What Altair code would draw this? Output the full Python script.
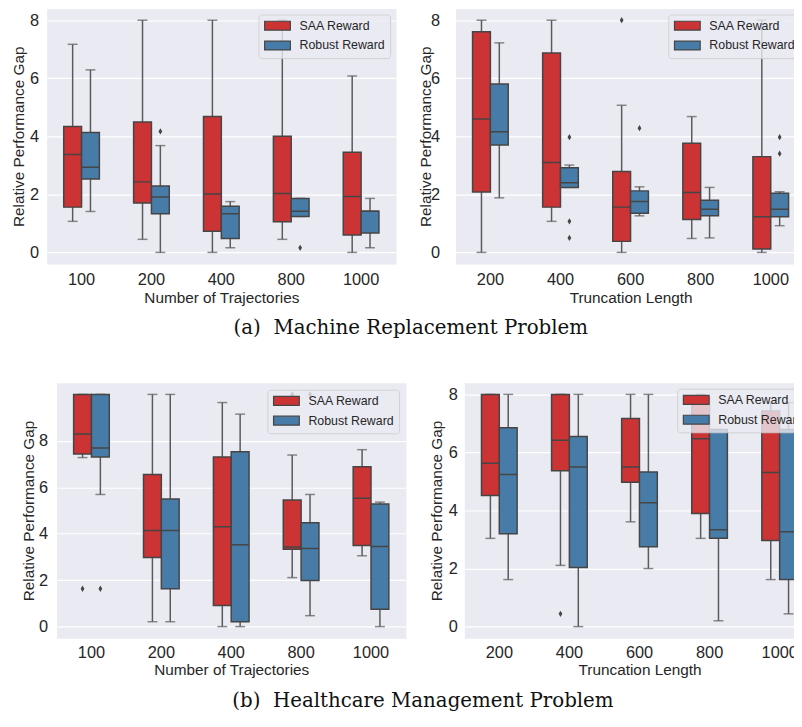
import altair as alt
import pandas as pd

groups = ["SAA Reward", "Robust Reward"]
group_colors = ["#CB3335", "#477CA8"]
EDGE = "#454545"
WHISK = "#5a5a5a"
SANS = "Liberation Sans, Arial, sans-serif"

traj_cats = ["100", "200", "400", "800", "1000"]
trunc_cats = ["200", "400", "600", "800", "1000"]

# ---- (a) Machine Replacement: Number of Trajectories ----
a1_saa_lo = [1.07, 0.45, 0.0, 0.45, 0.0]
a1_saa_q1 = [1.56, 1.70, 0.73, 1.06, 0.60]
a1_saa_med = [3.37, 2.43, 2.01, 2.03, 1.93]
a1_saa_q3 = [4.34, 4.49, 4.68, 4.00, 3.45]
a1_saa_hi = [7.17, 8.0, 8.0, 8.0, 6.08]
a1_rob_lo = [1.41, 0.0, 0.16, 1.24, 0.16]
a1_rob_q1 = [2.53, 1.33, 0.48, 1.24, 0.67]
a1_rob_med = [2.93, 1.91, 1.33, 1.42, 1.42]
a1_rob_q3 = [4.13, 2.29, 1.59, 1.86, 1.42]
a1_rob_hi = [6.29, 3.68, 1.75, 1.86, 1.86]
a1_out_cat = ["200", "800"]
a1_out_grp = ["Robust Reward", "Robust Reward"]
a1_out_val = [4.17, 0.16]

# ---- (a) Machine Replacement: Truncation Length ----
a2_saa_lo = [0.0, 1.07, 0.0, 0.48, 0.0]
a2_saa_q1 = [2.08, 1.56, 0.38, 1.13, 0.12]
a2_saa_med = [4.60, 3.10, 1.56, 2.06, 1.23]
a2_saa_q3 = [7.60, 6.87, 2.79, 3.76, 3.30]
a2_saa_hi = [8.0, 8.0, 5.07, 4.68, 8.0]
a2_rob_lo = [1.88, 2.24, 1.26, 0.50, 0.92]
a2_rob_q1 = [3.70, 2.24, 1.35, 1.26, 1.23]
a2_rob_med = [4.16, 2.40, 1.75, 1.49, 1.49]
a2_rob_q3 = [5.80, 2.92, 2.12, 1.80, 2.04]
a2_rob_hi = [7.22, 3.01, 2.26, 2.24, 2.09]
a2_out_cat = ["600", "400", "400", "400", "600", "1000", "1000"]
a2_out_grp = ["SAA Reward", "Robust Reward", "Robust Reward", "Robust Reward",
              "Robust Reward", "Robust Reward", "Robust Reward"]
a2_out_val = [8.0, 3.97, 1.07, 0.50, 4.28, 3.97, 3.40]

# ---- (b) Healthcare Management: Number of Trajectories ----
b1_saa_lo = [7.28, 0.21, 0.0, 2.11, 3.05]
b1_saa_q1 = [7.43, 2.98, 0.91, 3.33, 3.49]
b1_saa_med = [8.30, 4.14, 4.30, 3.43, 5.53]
b1_saa_q3 = [10.0, 6.55, 7.30, 5.45, 6.88]
b1_saa_hi = [10.0, 10.0, 9.65, 7.39, 7.62]
b1_rob_lo = [5.69, 0.21, 0.0, 0.47, 0.0]
b1_rob_q1 = [7.30, 1.63, 0.21, 1.99, 0.75]
b1_rob_med = [7.69, 4.14, 3.53, 3.36, 3.45]
b1_rob_q3 = [10.0, 5.50, 7.53, 4.47, 5.28]
b1_rob_hi = [10.0, 10.0, 9.15, 5.69, 5.36]
b1_out_cat = ["100", "100", "800", "800"]
b1_out_grp = ["SAA Reward", "Robust Reward", "SAA Reward", "Robust Reward"]
b1_out_val = [1.63, 1.63, 10.0, 10.0]

# ---- (b) Healthcare Management: Truncation Length ----
b2_saa_lo = [3.04, 2.11, 3.61, 3.04, 1.62]
b2_saa_q1 = [4.52, 5.37, 4.97, 3.90, 2.97]
b2_saa_med = [5.63, 6.42, 5.50, 6.47, 5.31]
b2_saa_q3 = [8.0, 8.0, 7.17, 7.90, 7.43]
b2_saa_hi = [8.0, 8.0, 8.0, 8.0, 7.72]
b2_rob_lo = [1.62, 0.0, 2.00, 0.20, 0.44]
b2_rob_q1 = [3.20, 2.04, 2.75, 3.04, 1.62]
b2_rob_med = [5.24, 5.50, 4.27, 3.34, 3.27]
b2_rob_q3 = [6.85, 6.55, 5.33, 6.79, 6.79]
b2_rob_hi = [8.0, 8.0, 8.0, 6.79, 7.72]
b2_out_cat = ["400"]
b2_out_grp = ["SAA Reward"]
b2_out_val = [0.44]

y_ticks = [0, 2, 4, 6, 8]
y_title = "Relative Performance Gap"
DIAMOND = "M0,-1L0.6,0L0,1L-0.6,0Z"
LEGEND_SYMBOL = "M-2.6,-0.9L2.6,-0.9L2.6,0.9L-2.6,0.9Z"


def make_stats(cats, saa, rob):
    rows = []
    for g, s in zip(groups, [saa, rob]):
        lo, q1, med, q3, hi = s
        for i, c in enumerate(cats):
            rows.append(dict(cat=c, group=g, lo=lo[i], q1=q1[i], med=med[i], q3=q3[i], hi=hi[i]))
    return pd.DataFrame(rows)


def make_out(cats, grps, vals):
    return pd.DataFrame({"cat": cats, "group": grps, "value": vals})


def panel(stats, outs, cats, xtitle, ydom, width, ylp, ytp, xlp, xtp, leg_off=6):
    xenc = alt.X("cat:N", sort=cats,
                 scale=alt.Scale(domain=cats, paddingInner=0, paddingOuter=0),
                 axis=alt.Axis(title=xtitle, labelAngle=0, labelPadding=xlp, titlePadding=xtp))
    xo = alt.XOffset("group:N", sort=groups,
                     scale=alt.Scale(domain=groups, paddingInner=0, paddingOuter=0.96))
    ysc = alt.Scale(domain=ydom, nice=False, zero=False)
    yax = alt.Axis(values=y_ticks, title=y_title, labelPadding=ylp, titlePadding=ytp,
                   grid=True)

    def Y(field):
        return alt.Y(field, scale=ysc, axis=yax, title=y_title)

    base = alt.Chart(stats)
    whisk = base.mark_rule(color=WHISK, strokeWidth=1.5).encode(
        x=xenc, xOffset=xo, y=Y("lo:Q"), y2="hi:Q")
    cap_lo = base.mark_tick(color=WHISK, size=10, thickness=1.5).encode(
        x=xenc, xOffset=xo, y=Y("lo:Q"))
    cap_hi = base.mark_tick(color=WHISK, size=10, thickness=1.5).encode(
        x=xenc, xOffset=xo, y=Y("hi:Q"))
    box = base.mark_bar(stroke=EDGE, strokeWidth=1.5, opacity=1).encode(
        x=xenc, xOffset=xo, y=Y("q1:Q"), y2="q3:Q",
        color=alt.Color("group:N", sort=groups,
                        scale=alt.Scale(domain=groups, range=group_colors),
                        legend=alt.Legend(title=None, orient="top-right", offset=leg_off,
                                          symbolType=LEGEND_SYMBOL, symbolSize=100,
                                          symbolOffset=8, labelOffset=16,
                                          symbolStrokeColor=EDGE, symbolStrokeWidth=1.2,
                                          symbolOpacity=1,
                                          labelFontSize=12.5, labelFont=SANS,
                                          labelColor="#262626", rowPadding=5, padding=5,
                                          fillColor="rgba(234,234,242,0.8)",
                                          strokeColor="rgba(204,204,204,0.8)",
                                          cornerRadius=3)))
    med = base.mark_bar(stroke=EDGE, strokeWidth=1.5, fillOpacity=0).encode(
        x=xenc, xOffset=xo, y=Y("med:Q"), y2="med:Q")
    out = alt.Chart(outs).mark_point(shape=DIAMOND, filled=True, color=EDGE,
                                     size=40, opacity=1).encode(
        x=xenc, xOffset=xo, y=Y("value:Q"))
    return alt.layer(whisk, cap_lo, cap_hi, box, med, out).properties(width=width, height=258)


pa1 = panel(make_stats(traj_cats, [a1_saa_lo, a1_saa_q1, a1_saa_med, a1_saa_q3, a1_saa_hi],
                       [a1_rob_lo, a1_rob_q1, a1_rob_med, a1_rob_q3, a1_rob_hi]),
            make_out(a1_out_cat, a1_out_grp, a1_out_val), traj_cats,
            "Number of Trajectories", [-0.4, 8.4], 353, 8, 3, 8, 2)
pa2 = panel(make_stats(trunc_cats, [a2_saa_lo, a2_saa_q1, a2_saa_med, a2_saa_q3, a2_saa_hi],
                       [a2_rob_lo, a2_rob_q1, a2_rob_med, a2_rob_q3, a2_rob_hi]),
            make_out(a2_out_cat, a2_out_grp, a2_out_val), trunc_cats,
            "Truncation Length", [-0.4, 8.4], 354, 16, -3, 8, 2)
pb1 = panel(make_stats(traj_cats, [b1_saa_lo, b1_saa_q1, b1_saa_med, b1_saa_q3, b1_saa_hi],
                       [b1_rob_lo, b1_rob_q1, b1_rob_med, b1_rob_q3, b1_rob_hi]),
            make_out(b1_out_cat, b1_out_grp, b1_out_val), traj_cats,
            "Number of Trajectories", [-0.5, 10.5], 353, 9, 2.5, 6, 2, leg_off=7)
pb2 = panel(make_stats(trunc_cats, [b2_saa_lo, b2_saa_q1, b2_saa_med, b2_saa_q3, b2_saa_hi],
                       [b2_rob_lo, b2_rob_q1, b2_rob_med, b2_rob_q3, b2_rob_hi]),
            make_out(b2_out_cat, b2_out_grp, b2_out_val), trunc_cats,
            "Truncation Length", [-0.4, 8.4], 354, 7, 4, 6, 2)

# empty, transparent view that pushes the lower row 10px to the right
spacer = alt.Chart(pd.DataFrame({"s": [""]})).mark_text().encode(text="s:N").properties(
    width=1, height=258, view=alt.ViewBackground(fill="transparent", stroke="transparent"))

cap_font = dict(orient="bottom", anchor="middle", font="DejaVu Serif", fontSize=20,
                fontWeight="normal", color="#111111")

row_a = alt.hconcat(pa1, pa2, spacing=21).resolve_scale(color="independent").resolve_legend(
    color="independent").properties(
    title=alt.TitleParams(text="(a)\u00a0 Machine Replacement Problem", offset=12, dx=2,
                          **cap_font))
row_b_inner = alt.hconcat(pb1, pb2, spacing=22).resolve_scale(
    color="independent").resolve_legend(color="independent")
row_b = alt.hconcat(spacer, row_b_inner, spacing=9, bounds="flush").resolve_scale(
    color="independent").resolve_legend(color="independent").properties(
    title=alt.TitleParams(text="(b)\u00a0 Healthcare Management Problem", offset=13, dx=5,
                          **cap_font))

chart = alt.vconcat(row_a, row_b, spacing=44).resolve_scale(color="independent").resolve_legend(
    color="independent").properties(
    autosize=alt.AutoSizeParams(type="none"),
    padding={"left": 39, "top": -3, "right": 755, "bottom": 714}
).configure_view(fill="#EAEAF2", stroke="transparent").configure_axis(
    domain=False, ticks=False, tickSize=0, labelFont=SANS,
    titleFont=SANS, labelFontSize=16.5, titleFontSize=15.5,
    labelColor="#262626", titleColor="#262626", titleFontWeight="normal",
    gridColor="white", gridWidth=1.2
).configure_axisX(grid=False)

chart.save("out.html", embed_options={"renderer": "svg", "actions": False})
